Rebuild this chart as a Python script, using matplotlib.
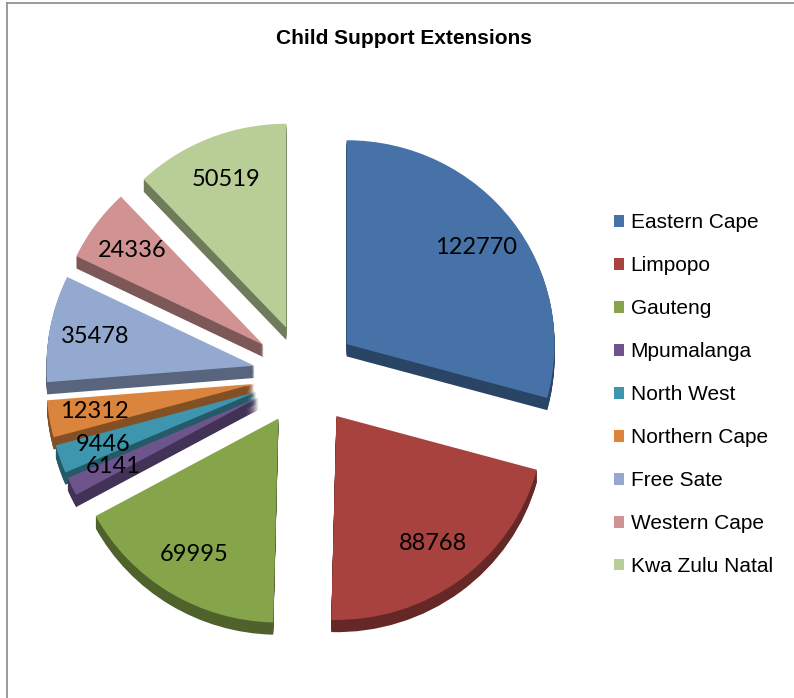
import numpy as np
import matplotlib.pyplot as plt
from matplotlib.colors import to_rgb
from matplotlib.lines import Line2D

provinces = ['Eastern Cape', 'Limpopo', 'Gauteng', 'Mpumalanga', 'North West',
             'Northern Cape', 'Free Sate', 'Western Cape', 'Kwa Zulu Natal']
values = [122770, 88768, 69995, 6141, 9446, 12312, 35478, 24336, 50519]
colors = ['#4672A8', '#A8423F', '#86A44A', '#6E548D', '#3D96AE',
          '#DB843D', '#93A9D0', '#D09392', '#B9CD96']

total = sum(values)
explode = [0.25] * len(values)
side_colors = [tuple(c * 0.6 for c in to_rgb(col)) for col in colors]

fig = plt.figure(figsize=(7.94, 6.98), dpi=100)
# axes box sized so one unit is ~208 px across and ~204 px tall
ax = fig.add_axes([14.4 / 794, 37.4 / 698, 582 / 794, 571 / 698])

# fake 3d depth: stack darker copies below the top face
for dy in np.linspace(0.06, 0.005, 14):
    ax.pie(values, explode=explode, colors=side_colors, startangle=90,
           counterclock=False, center=(0, -dy), wedgeprops=dict(linewidth=0))

wedges, texts, autotexts = ax.pie(
    values, explode=explode, colors=colors, startangle=90, counterclock=False,
    autopct=lambda p: f"{p * total / 100:.0f}", pctdistance=0.78,
    textprops=dict(fontsize=17, family='Lato', color='black'),
    wedgeprops=dict(linewidth=0))

ax.set_aspect('auto')
ax.set_xlim(-1.4, 1.4)
ax.set_ylim(-1.4, 1.4)

fig.text(404 / 794, 1 - 38 / 698, 'Child Support Extensions', ha='center', va='center',
         fontsize=15, fontweight='bold', family='Liberation Sans')

fig.legend(wedges, provinces, loc='upper left', bbox_to_anchor=(604 / 794, 1 - 203 / 698),
           frameon=False, borderpad=0, handlelength=0.48, handleheight=0.48,
           handletextpad=0.3, labelspacing=1.15,
           prop=dict(family='Liberation Sans', size=15))

# chart frame (only left and top edges visible)
fig.add_artist(Line2D([6.5 / 794, 6.5 / 794], [0, 1 - 3 / 698], transform=fig.transFigure,
                      color='#8A8A8A', lw=1.2))
fig.add_artist(Line2D([6.5 / 794, 1], [1 - 3 / 698, 1 - 3 / 698], transform=fig.transFigure,
                      color='#8A8A8A', lw=1.2))

fig.savefig('out.png', dpi=100)
